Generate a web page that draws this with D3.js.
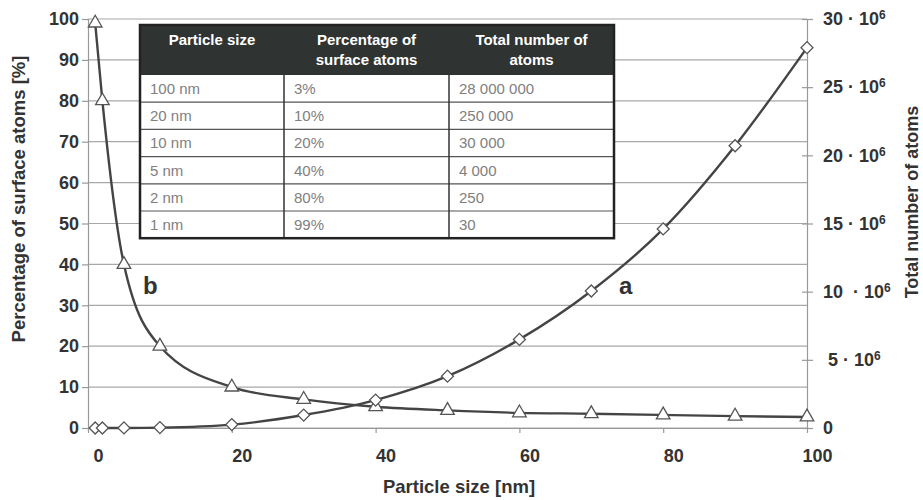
<!DOCTYPE html>
<html>
<head>
<meta charset="utf-8">
<script src="https://cdn.jsdelivr.net/npm/d3@7"></script>
<style>
  body { margin: 0; background: #fff; }
  svg { font-family: "Liberation Sans", Arial, sans-serif; }
</style>
</head>
<body>
<div id="chart"></div>
<script>
// particle sizes (nm) where both curves have a marker
var sizes = [1, 2, 5, 10, 20, 30, 40, 50, 60, 70, 80, 90, 100];
// curve b : percentage of surface atoms
var surfacePct = [99, 80, 40, 20, 10, 7, 5.2, 4.3, 3.7, 3.5, 3.2, 2.9, 2.7];
// curve a : total number of atoms
var atomsTotal = [30, 250, 4000, 30000, 250000, 950000, 2050000, 3800000, 6500000, 10050000, 14600000, 20700000, 27900000];

var xTicks = [0, 20, 40, 60, 80, 100];
var leftTicks = [0, 10, 20, 30, 40, 50, 60, 70, 80, 90, 100];
var rightTicks = [0, 5e6, 10e6, 15e6, 20e6, 25e6, 30e6];

// inset table
var tableHead = [["Particle size"], ["Percentage of", "surface atoms"], ["Total number of", "atoms"]];
var tableSize = ["100 nm", "20 nm", "10 nm", "5 nm", "2 nm", "1 nm"];
var tablePct = ["3%", "10%", "20%", "40%", "80%", "99%"];
var tableAtoms = ["28 000 000", "250 000", "30 000", "4 000", "250", "30"];

var W = 923, H = 500;
var pLeft = 88, pRight = 807, pTop = 19, pBottom = 428;

var svg = d3.select("#chart").append("svg")
    .attr("width", W)
    .attr("height", H);

var x = d3.scaleLinear().domain([0, 100]).range([pLeft, pRight]);
var yL = d3.scaleLinear().domain([0, 100]).range([pBottom, pTop]);
var yR = d3.scaleLinear().domain([0, 30e6]).range([pBottom, pTop]);

// grid
svg.append("g")
    .selectAll("line")
    .data(leftTicks)
    .join("line")
    .attr("x1", pLeft).attr("x2", pRight)
    .attr("y1", d => yL(d)).attr("y2", d => yL(d))
    .attr("stroke", "#a8a8a8")
    .attr("stroke-width", 1.2);

// left axis
var gl = svg.append("g")
    .attr("transform", "translate(" + pLeft + ",0)")
    .call(d3.axisLeft(yL).tickValues(leftTicks).tickSize(6).tickPadding(3))
    .style("font", "bold 18px 'Liberation Sans', Arial");
gl.selectAll("line, path").attr("stroke", "#999").attr("stroke-width", 1.2);
gl.selectAll("text").attr("fill", "#333");

// bottom axis
var gb = svg.append("g")
    .attr("transform", "translate(0," + pBottom + ")")
    .call(d3.axisBottom(x).tickValues(xTicks).tickSize(5).tickSizeOuter(0))
    .style("font", "bold 18px 'Liberation Sans', Arial");
gb.selectAll("line, path").attr("stroke", "#999").attr("stroke-width", 1.2);
gb.selectAll("text").attr("fill", "#333").attr("dx", 10).attr("y", 21);

// right axis
var gr = svg.append("g")
    .attr("transform", "translate(" + pRight + ",0)")
    .call(d3.axisRight(yR).tickValues(rightTicks).tickSize(6).tickPadding(10).tickFormat(""))
    .style("font", "bold 18px 'Liberation Sans', Arial");
gr.selectAll("line, path").attr("stroke", "#999").attr("stroke-width", 1.2);
gr.selectAll(".tick line").attr("x1", -5);
gr.selectAll(".tick text").each(function(d) {
    var t = d3.select(this).attr("fill", "#333").attr("x", d === 5e6 ? 21 : 16);
    if (d === 0) { t.text("0"); return; }
    var m = d / 1e6;
    t.append("tspan").text(m + (m === 10 ? "\u00a0\u00a0\u00b7 10" : " \u00b7 10"));
    t.append("tspan").text("6").attr("dy", -6).style("font-size", "12px");
});

// curves
var lineB = d3.line()
    .x((d, i) => x(sizes[i]))
    .y(d => yL(d))
    .curve(d3.curveMonotoneX);
var lineA = d3.line()
    .x((d, i) => x(sizes[i]))
    .y(d => yR(d))
    .curve(d3.curveMonotoneX);

svg.append("path")
    .attr("d", lineB(surfacePct))
    .attr("fill", "none")
    .attr("stroke", "#444")
    .attr("stroke-width", 2.4);
svg.append("path")
    .attr("d", lineA(atomsTotal))
    .attr("fill", "none")
    .attr("stroke", "#444")
    .attr("stroke-width", 2.4);

svg.append("g")
    .selectAll("path")
    .data(surfacePct)
    .join("path")
    .attr("d", d3.symbol().type(d3.symbolTriangle).size(80))
    .attr("transform", (d, i) => "translate(" + x(sizes[i]) + "," + yL(d) + ")")
    .attr("fill", "#fff")
    .attr("stroke", "#555")
    .attr("stroke-width", 1.3);

svg.append("g")
    .selectAll("path")
    .data(atomsTotal)
    .join("path")
    .attr("d", d3.symbol().type(d3.symbolSquare).size(72))
    .attr("transform", (d, i) => "translate(" + x(sizes[i]) + "," + yR(d) + ") rotate(45)")
    .attr("fill", "#fff")
    .attr("stroke", "#555")
    .attr("stroke-width", 1.3);

// curve labels
svg.append("text").attr("x", 143).attr("y", 294).text("b")
    .style("font", "bold 24px 'Liberation Sans', Arial").attr("fill", "#333");
svg.append("text").attr("x", 619).attr("y", 294).text("a")
    .style("font", "bold 24px 'Liberation Sans', Arial").attr("fill", "#333");

// axis titles
svg.append("text")
    .attr("transform", "translate(25,199) rotate(-90)")
    .attr("text-anchor", "middle")
    .style("font", "bold 18.5px 'Liberation Sans', Arial")
    .attr("fill", "#333")
    .text("Percentage of surface atoms [%]");
svg.append("text")
    .attr("transform", "translate(918,202) rotate(-90)")
    .attr("text-anchor", "middle")
    .style("font", "bold 18px 'Liberation Sans', Arial")
    .attr("fill", "#333")
    .text("Total number of atoms");
svg.append("text")
    .attr("x", 459).attr("y", 493)
    .attr("text-anchor", "middle")
    .style("font", "bold 18.5px 'Liberation Sans', Arial")
    .attr("fill", "#333")
    .text("Particle size [nm]");

// table
var colX = [140, 284, 449, 614];
var tTop = 25, headH = 50, rowH = 27.2;
var rows = tableSize.map((s, i) => [s, tablePct[i], tableAtoms[i]]);
var tb = svg.append("g");
tb.append("rect")
    .attr("x", colX[0]).attr("y", tTop)
    .attr("width", colX[3] - colX[0]).attr("height", headH + rowH * rows.length)
    .attr("fill", "#fff");
tb.append("rect")
    .attr("x", colX[0]).attr("y", tTop)
    .attr("width", colX[3] - colX[0]).attr("height", headH)
    .attr("fill", "#2f3433");
tb.selectAll(".rowline")
    .data(rows.slice(1))
    .join("line")
    .attr("x1", colX[0]).attr("x2", colX[3])
    .attr("y1", (d, i) => tTop + headH + rowH * (i + 1))
    .attr("y2", (d, i) => tTop + headH + rowH * (i + 1))
    .attr("stroke", "#555").attr("stroke-width", 1.2);
tb.selectAll(".colline")
    .data(colX.slice(1, 3))
    .join("line")
    .attr("x1", d => d).attr("x2", d => d)
    .attr("y1", tTop).attr("y2", tTop + headH + rowH * rows.length)
    .attr("stroke", "#333").attr("stroke-width", 1.5);
tb.append("rect")
    .attr("x", colX[0]).attr("y", tTop)
    .attr("width", colX[3] - colX[0]).attr("height", headH + rowH * rows.length)
    .attr("fill", "none").attr("stroke", "#222").attr("stroke-width", 2.5);

tableHead.forEach(function(lines, c) {
    var t = tb.append("text")
        .attr("text-anchor", "middle")
        .style("font", "bold 15px 'Liberation Sans', Arial")
        .attr("fill", "#fff");
    lines.forEach(function(l, k) {
        t.append("tspan")
            .attr("x", (colX[c] + colX[c + 1]) / 2)
            .attr("y", 45 + k * 20)
            .text(l);
    });
});

rows.forEach(function(r, i) {
    r.forEach(function(v, c) {
        tb.append("text")
            .attr("x", colX[c] + 10)
            .attr("y", tTop + headH + rowH * i + rowH / 2)
            .attr("dy", "0.36em")
            .style("font", "15px 'Liberation Sans', Arial")
            .attr("fill", "#808080")
            .text(v);
    });
});
</script>
</body>
</html>
